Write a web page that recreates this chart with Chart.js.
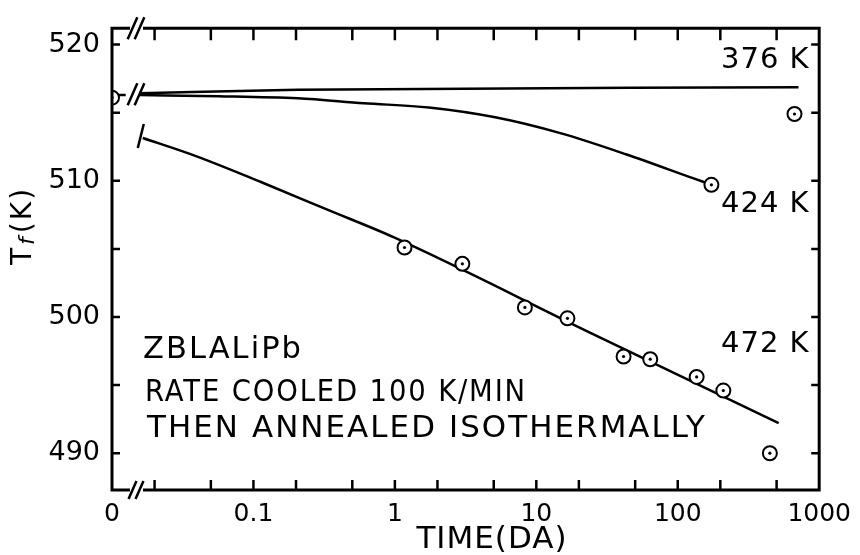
<!DOCTYPE html>
<html>
<head>
<meta charset="utf-8">
<script src="https://cdn.jsdelivr.net/npm/chart.js@4/dist/chart.umd.min.js"></script>
<style>
body{margin:0;background:#fff;}
#tf{display:block;}
</style>
</head>
<body>
<canvas id="tf" width="860" height="555"></canvas>
<script>
//Time zero sits on the broken left end of the log axis
var zeroT = 0.01;
var xLabelTicks = [0.01, 0.1, 1, 10, 100, 1000];
var xMinorTicks = [0.02, 0.05, 0.1, 0.2, 0.5, 1, 2, 5, 10, 20, 50, 100, 200, 500];
var yTicks = [490, 495, 500, 505, 510, 515, 520];

//Measured Tf (K) against annealing time (days)
var ptsZeroT = [zeroT];
var ptsZeroTf = [516.1];
var pts376T = [669];
var pts376Tf = [514.9];
var pts424T = [173];
var pts424Tf = [509.7];
var pts472T = [1.17, 3.0, 8.3, 16.6, 41.4, 63.9, 136, 210, 448];
var pts472Tf = [505.1, 503.9, 500.7, 499.9, 497.1, 496.9, 495.6, 494.6, 490.0];

//Drawn curves
var fit376T = [0.0157, 0.206, 714];
var fit376Tf = [516.43, 516.69, 516.86];
var fit424T = [0.0157, 0.0568, 0.206, 0.603, 1.74, 5.12, 15.0, 43.5, 128, 173];
var fit424Tf = [516.29, 516.21, 516.05, 515.69, 515.38, 514.66, 513.48, 511.93, 510.19, 509.71];
var fit472T = [0.0165, 0.0392, 0.113, 0.333, 0.978, 25.6, 517];
var fit472Tf = [513.14, 511.81, 509.91, 507.88, 505.86, 498.71, 492.21];
var stubT = [zeroT, 0.0125];
var stubTf = [516.3, 516.3];

var seriesLabels = ["376 K", "424 K", "472 K"];
var noteLines = ["ZBLALiPb", "RATE COOLED 100 K/MIN", "THEN ANNEALED ISOTHERMALLY"];

function xy(t, tf){
	return t.map(function(v, i){ return {x:v, y:tf[i]}; });
}
var allPts = xy(ptsZeroT, ptsZeroTf).concat(xy(pts376T, pts376Tf), xy(pts424T, pts424Tf), xy(pts472T, pts472Tf));

function curve(t, tf){
	return {
		data:xy(t, tf),
		showLine:true,
		borderColor:'#000',
		borderWidth:2.5,
		pointRadius:0,
		cubicInterpolationMode:'monotone',
		order:3
	};
}

var FONT = "'DejaVu Sans', sans-serif";

//squeeze or stretch a line of lettering to a given width
function fitText(ctx, txt, x, y, w){
	var m = ctx.measureText(txt).width;
	ctx.save();
	ctx.translate(x, y);
	ctx.scale(w / m, 1);
	ctx.fillText(txt, 0, 0);
	ctx.restore();
}

//Frame, inward ticks, axis breaks and lettering
var decor = {
	id:'decor',
	afterDraw:function(chart){
		var ctx = chart.ctx, a = chart.chartArea, sx = chart.scales.x, sy = chart.scales.y;
		var bx = a.left + 24;
		ctx.save();
		ctx.strokeStyle = '#000';
		ctx.lineCap = 'butt';
		ctx.lineWidth = 3;
		ctx.beginPath();
		ctx.moveTo(bx - 6, a.top); ctx.lineTo(a.left, a.top); ctx.lineTo(a.left, a.bottom); ctx.lineTo(bx - 6, a.bottom);
		ctx.moveTo(bx + 7, a.bottom); ctx.lineTo(a.right, a.bottom); ctx.lineTo(a.right, a.top); ctx.lineTo(bx + 7, a.top);
		ctx.stroke();
		//ticks
		ctx.lineWidth = 2.5;
		ctx.beginPath();
		xMinorTicks.forEach(function(v){
			var px = sx.getPixelForValue(v);
			ctx.moveTo(px, a.bottom); ctx.lineTo(px, a.bottom - 10);
			ctx.moveTo(px, a.top); ctx.lineTo(px, a.top + 12);
		});
		yTicks.forEach(function(v){
			var py = sy.getPixelForValue(v);
			ctx.moveTo(a.left, py); ctx.lineTo(a.left + 8, py);
			ctx.moveTo(a.right, py); ctx.lineTo(a.right - 8, py);
		});
		ctx.stroke();
		//break marks
		function brk(cx, cy, h){
			ctx.beginPath();
			[-3.5, 3.5].forEach(function(d){
				ctx.moveTo(cx + d - h * 0.22, cy + h / 2);
				ctx.lineTo(cx + d + h * 0.22, cy - h / 2);
			});
			ctx.stroke();
		}
		brk(bx, a.top, 22);
		brk(bx, a.bottom, 18);
		brk(bx, sy.getPixelForValue(fit376Tf[0]) + 1, 22);
		//start bar on the 472 K curve
		var s0 = chart.getDatasetMeta(2).data[0];
		ctx.beginPath();
		ctx.moveTo(s0.x - 5, s0.y + 10); ctx.lineTo(s0.x + 1, s0.y - 14);
		ctx.stroke();
		//lettering
		ctx.fillStyle = '#000';
		ctx.textBaseline = 'alphabetic';
		ctx.textAlign = 'left';
		ctx.font = '29px ' + FONT;
		ctx.letterSpacing = '1px';
		ctx.fillText(seriesLabels[0], 721, 68);
		ctx.fillText(seriesLabels[1], 721, 212);
		ctx.fillText(seriesLabels[2], 721, 352);
		ctx.font = '30px ' + FONT;
		ctx.letterSpacing = '2px';
		fitText(ctx, noteLines[0], 143, 358, 160);
		fitText(ctx, noteLines[1], 145, 401, 382);
		fitText(ctx, noteLines[2], 147, 437, 560);
		//x title
		ctx.font = '31px ' + FONT;
		ctx.letterSpacing = '1px';
		ctx.textAlign = 'center';
		ctx.fillText('TIME(DA)', 492, 548);
		//y title
		ctx.translate(31, 265);
		ctx.rotate(-Math.PI / 2);
		ctx.textAlign = 'left';
		ctx.letterSpacing = '2px';
		ctx.font = '28px ' + FONT;
		ctx.fillText('T', 0, 0);
		var w = ctx.measureText('T').width;
		ctx.font = 'italic 22px ' + FONT;
		ctx.fillText('f', w + 1, 3);
		w += ctx.measureText('f').width + 3;
		ctx.font = '28px ' + FONT;
		ctx.fillText('(K)', w, 0);
		ctx.restore();
	}
};

var chart = new Chart(document.getElementById('tf'), {
	type:'scatter',
	data:{
		datasets:[
			curve(fit376T, fit376Tf),
			curve(fit424T, fit424Tf),
			curve(fit472T, fit472Tf),
			curve(stubT, stubTf),
			{
				data:allPts,
				pointRadius:7,
				pointBorderWidth:2,
				pointBackgroundColor:'#fff',
				pointBorderColor:'#000',
				order:2
			},
			{
				data:allPts,
				pointRadius:1.6,
				pointBorderWidth:0,
				pointBackgroundColor:'#000',
				order:1
			}
		]
	},
	options:{
		responsive:false,
		animation:false,
		devicePixelRatio:1,
		layout:{padding:{left:0, right:32, top:15, bottom:0}},
		plugins:{legend:{display:false}, tooltip:{enabled:false}},
		scales:{
			x:{
				type:'logarithmic',
				min:0.01,
				max:1000,
				grid:{display:false, drawTicks:false},
				border:{display:false},
				afterBuildTicks:function(s){ s.ticks = xLabelTicks.map(function(v){ return {value:v}; }); },
				afterFit:function(s){ s.height = 65; },
				ticks:{
					autoSkip:false,
					maxRotation:0,
					padding:9,
					color:'#000',
					font:{family:FONT, size:25},
					callback:function(v){ return v === zeroT ? '0' : String(v); }
				}
			},
			y:{
				min:487.3,
				max:521.2,
				grid:{display:false, drawTicks:false},
				border:{display:false},
				afterBuildTicks:function(s){ s.ticks = yTicks.map(function(v){ return {value:v}; }); },
				afterFit:function(s){ s.width = 112; },
				ticks:{
					padding:12,
					color:'#000',
					font:{family:FONT, size:27},
					callback:function(v){ return v % 10 === 0 ? String(v) : ''; }
				}
			}
		}
	},
	plugins:[decor]
});
</script>
</body>
</html>
